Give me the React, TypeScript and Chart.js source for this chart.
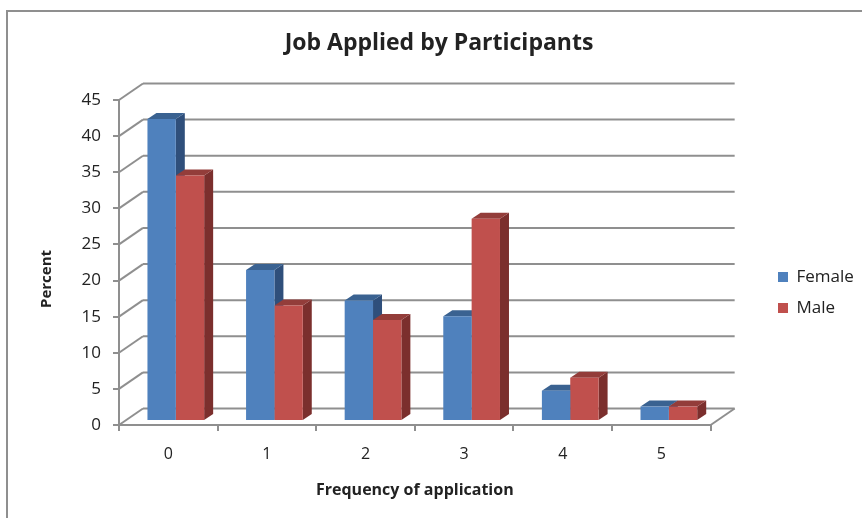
import React, { useEffect, useRef } from "react";
import { Chart, registerables } from "chart.js";

Chart.register(...registerables);

const categories = ["0", "1", "2", "3", "4", "5"];
const femaleValues = [41.8, 20.9, 16.7, 14.5, 4.2, 2];
const maleValues = [34, 16, 14, 28, 6, 2];
const yTicks = [0, 5, 10, 15, 20, 25, 30, 35, 40, 45];

const FONT = "'Open Sans', sans-serif";
const AXIS = "#8f8f8f";
const INK = "#222222";

// Projection of the 3D box: wall depth, bar depth and the bars' inset in the box.
const WALL = { dx: 24, dy: -16.5 };
const BAR = { dx: 9, dy: -6 };
const INSET = { dx: 7.5, dy: -4 };

const shades: Record<string, { side: string; top: string }> = {
  "#4f81bd": { side: "#2f4f7b", top: "#3a6291" },
  "#c0504d": { side: "#7b2f2d", top: "#933d3a" },
};

const line = (ctx: CanvasRenderingContext2D, x1: number, y1: number, x2: number, y2: number) => {
  ctx.beginPath();
  ctx.moveTo(x1, y1);
  ctx.lineTo(x2, y2);
  ctx.stroke();
};

const poly = (ctx: CanvasRenderingContext2D, pts: number[][], fill: string) => {
  ctx.beginPath();
  pts.forEach(([x, y], i) => (i ? ctx.lineTo(x, y) : ctx.moveTo(x, y)));
  ctx.closePath();
  ctx.fillStyle = fill;
  ctx.fill();
};

const box3d = {
  id: "box3d",
  afterLayout(chart: any) {
    // Legend column and title are placed against the full canvas, not the plot.
    const legend = chart.legend;
    legend.left = 764;
    legend.right = 862;
    legend.top = 169;
    legend.bottom = 416;
    chart.titleBlock.left = 16;
    chart.titleBlock.right = 862;
  },
  beforeDatasetsDraw(chart: any) {
    const { ctx, scales } = chart;
    const { left, right } = scales.x;
    const y = scales.y;
    ctx.save();
    ctx.strokeStyle = AXIS;
    ctx.lineWidth = 2;
    yTicks.forEach((t) => {
      const py = y.getPixelForValue(t);
      line(ctx, left, py, left + WALL.dx, py + WALL.dy);
      line(ctx, left + WALL.dx, py + WALL.dy, right + WALL.dx, py + WALL.dy);
    });
    const base = y.getPixelForValue(0);
    line(ctx, right, base, right + WALL.dx, base + WALL.dy);

    // Side and top faces go down first; the bars' front faces cover what they should.
    ctx.translate(INSET.dx, INSET.dy);
    chart.data.datasets.forEach((ds: any, i: number) => {
      const { side, top } = shades[ds.backgroundColor];
      chart.getDatasetMeta(i).data.forEach((bar: any) => {
        const l = bar.x - bar.width / 2;
        const r = bar.x + bar.width / 2;
        poly(ctx, [[r, bar.y], [r + BAR.dx, bar.y + BAR.dy], [r + BAR.dx, bar.base + BAR.dy], [r, bar.base]], side);
        poly(ctx, [[l, bar.y], [l + BAR.dx, bar.y + BAR.dy], [r + BAR.dx, bar.y + BAR.dy], [r, bar.y]], top);
      });
    });
    ctx.restore();
  },
  beforeDatasetDraw(chart: any) {
    chart.ctx.save();
    chart.ctx.translate(INSET.dx, INSET.dy);
  },
  afterDatasetDraw(chart: any) {
    chart.ctx.restore();
  },
  afterDraw(chart: any) {
    // The value-axis title sits below the axis midpoint.
    const { ctx } = chart;
    ctx.save();
    ctx.translate(47, 279);
    ctx.rotate(-Math.PI / 2);
    ctx.font = `bold 15px ${FONT}`;
    ctx.fillStyle = INK;
    ctx.textAlign = "center";
    ctx.textBaseline = "middle";
    ctx.fillText("Percent", 0, 0);
    ctx.restore();
  },
};

export default function App() {
  const ref = useRef<HTMLCanvasElement>(null);

  useEffect(() => {
    const chart = new Chart(ref.current!, {
      type: "bar",
      plugins: [box3d],
      data: {
        labels: categories,
        datasets: [
          { label: "Female", data: femaleValues, backgroundColor: "#4f81bd", clip: false },
          { label: "Male", data: maleValues, backgroundColor: "#c0504d", clip: false },
        ],
      },
      options: {
        animation: false,
        responsive: false,
        layout: { padding: { left: 38, top: 0, bottom: 18, right: 51.5 } },
        datasets: { bar: { barPercentage: 1, categoryPercentage: 0.575, borderWidth: 0 } },
        scales: {
          x: {
            grid: { drawOnChartArea: false, color: AXIS, lineWidth: 2, tickLength: 6, offset: true },
            border: { color: AXIS, width: 2 },
            ticks: { color: INK, font: { family: FONT, size: 16 }, padding: 14, maxRotation: 0 },
            title: {
              display: true,
              text: "Frequency of application",
              color: INK,
              font: { family: FONT, size: 16, weight: "bold" },
              padding: { top: 0, bottom: 0 },
            },
            afterFit: (s: any) => { s.height = 75; },
          },
          y: {
            min: 0,
            max: 45,
            grid: { drawOnChartArea: false, color: AXIS, lineWidth: 2, tickLength: 6 },
            border: { color: AXIS, width: 2 },
            ticks: { stepSize: 5, color: INK, font: { family: FONT, size: 17 }, padding: 12 },
            afterFit: (s: any) => { s.width = 81; },
          },
        },
        plugins: {
          title: {
            display: true,
            text: "Job Applied by Participants",
            color: INK,
            font: { family: FONT, size: 23, weight: "bold", lineHeight: 1.2 },
            padding: { top: 30, bottom: 42.4 },
          },
          legend: {
            position: "right",
            labels: {
              boxWidth: 10,
              boxHeight: 10,
              color: INK,
              padding: 14,
              font: { family: FONT, size: 17 },
            },
          },
          tooltip: { enabled: false },
        },
      },
    } as any);
    return () => chart.destroy();
  }, []);

  return (
    <div style={{ position: "absolute", left: 0, top: 0, width: 862, height: 518, background: "#fff", overflow: "hidden" }}>
      <div
        style={{
          position: "absolute",
          left: 6,
          top: 10,
          width: 900,
          height: 600,
          borderLeft: "2px solid #8f8f8f",
          borderTop: "2px solid #8f8f8f",
        }}
      />
      <canvas ref={ref} width={862} height={518} style={{ position: "absolute", left: 0, top: 0 }} />
    </div>
  );
}
